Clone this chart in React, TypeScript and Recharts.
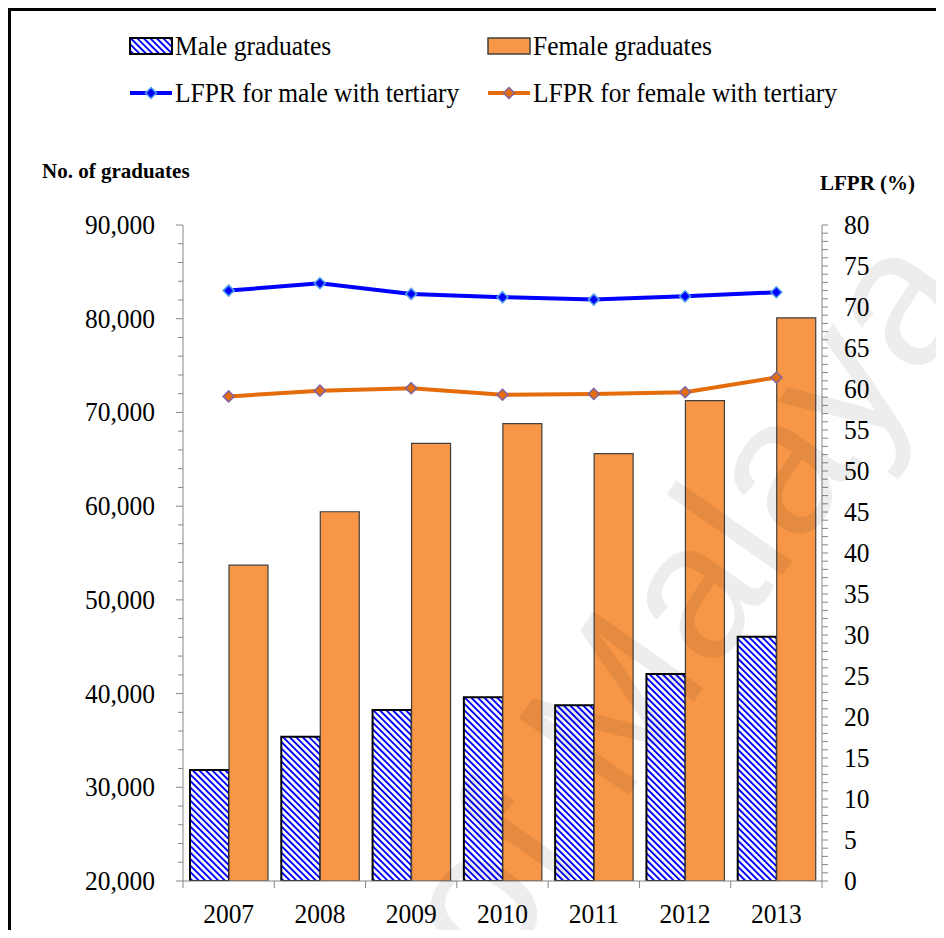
import React from "react";
import { ComposedChart, Bar, Line, XAxis, YAxis, Legend } from "recharts";

// values
const years = ["2007", "2008", "2009", "2010", "2011", "2012", "2013"];
const maleGraduates = [31850, 35400, 38250, 39600, 38750, 42100, 46050];
const femaleGraduates = [53700, 59400, 66700, 68800, 65600, 71250, 80100];
const lfprMale = [72.0, 72.9, 71.6, 71.2, 70.9, 71.3, 71.8];
const lfprFemale = [59.1, 59.8, 60.1, 59.3, 59.4, 59.6, 61.4];

const leftMajorTicks = [20000, 30000, 40000, 50000, 60000, 70000, 80000, 90000];
const rightMajorTicks = [0, 5, 10, 15, 20, 25, 30, 35, 40, 45, 50, 55, 60, 65, 70, 75, 80];
const leftTicks = Array.from({ length: 36 }, (_, i) => 20000 + i * 2000);
const rightTicks = Array.from({ length: 81 }, (_, i) => i);

const data = years.map((year, i) => ({
  year,
  male: maleGraduates[i],
  female: femaleGraduates[i],
  lfprMale: lfprMale[i],
  lfprFemale: lfprFemale[i],
}));

// layout (chart coordinates, origin at the page's 8px body margin)
const W = 928;
const H = 922;
const PLOT_L = 175;
const PLOT_R = 814;
const PLOT_T = 217;
const PLOT_B = 873;
const X_AXIS_H = 42;

const SERIF = "'Times New Roman', 'Liberation Serif', serif";
const AXIS = "#868686";
const BLUE = "#0000FF";
const ORANGE_LINE = "#E46C0A";
const ORANGE_BAR = "#F79646";
const SX = 0.91;

const fmt = (v: number) => v.toLocaleString("en-US");

function LeftTick(props: any) {
  const { y, payload } = props;
  const v = payload.value;
  const major = leftMajorTicks.includes(v);
  return (
    <g>
      <line x1={PLOT_L - (major ? 7 : 5)} x2={PLOT_L} y1={y} y2={y} stroke={AXIS} />
      {major && (
        <text transform={`translate(${PLOT_L - 28},${y + 9}) scale(${SX},1)`} textAnchor="end" fontFamily={SERIF} fontSize={28} fill="#000">
          {fmt(v)}
        </text>
      )}
    </g>
  );
}

function RightTick(props: any) {
  const { y, payload } = props;
  const v = payload.value;
  const major = rightMajorTicks.includes(v);
  return (
    <g>
      <line x1={PLOT_R} x2={PLOT_R + 6} y1={y} y2={y} stroke={AXIS} />
      {major && (
        <text transform={`translate(${PLOT_R + 22},${y + 9}) scale(${SX},1)`} textAnchor="start" fontFamily={SERIF} fontSize={28} fill="#000">
          {v}
        </text>
      )}
    </g>
  );
}

function YearTick(props: any) {
  const { x, payload } = props;
  const idx = years.indexOf(payload.value);
  const band = (PLOT_R - PLOT_L) / years.length;
  return (
    <g>
      <line x1={x - band / 2} x2={x - band / 2} y1={PLOT_B} y2={PLOT_B + 7} stroke={AXIS} />
      {idx === years.length - 1 && <line x1={x + band / 2} x2={x + band / 2} y1={PLOT_B} y2={PLOT_B + 7} stroke={AXIS} />}
      <text transform={`translate(${x},${PLOT_B + 42}) scale(${SX},1)`} textAnchor="middle" fontFamily={SERIF} fontSize={28} fill="#000">
        {payload.value}
      </text>
    </g>
  );
}

function AxisTitle({ tx, ty, text }: { tx: number; ty: number; text: string }) {
  return (
    <text x={tx} y={ty} fontFamily={SERIF} fontSize={21} fontWeight="bold" fill="#000">
      {text}
    </text>
  );
}

const diamond = (fill: string, stroke: string) => (p: any) => {
  const { cx, cy, index } = p;
  const r = 5.5;
  return (
    <polygon
      key={`d-${index}`}
      points={`${cx},${cy - r} ${cx + r},${cy} ${cx},${cy + r} ${cx - r},${cy}`}
      fill={fill}
      stroke={stroke}
      strokeWidth={1.5}
    />
  );
};

function Stripes({ id }: { id: string }) {
  return (
    <pattern id={id} patternUnits="userSpaceOnUse" width="4.6" height="4.6" patternTransform="rotate(-45)">
      <rect x="0" y="0" width="4.6" height="4.6" fill="#fff" />
      <rect x="0" y="0" width="1.9" height="4.6" fill={BLUE} />
    </pattern>
  );
}

function LegendBox() {
  const legendText = (x: number, y: number, t: string) => (
    <text transform={`translate(${x},${y}) scale(${SX},1)`} fontFamily={SERIF} fontSize={28} fill="#000">
      {t}
    </text>
  );
  return (
    <svg width={W} height={110} style={{ display: "block" }}>
      <defs>
        <Stripes id="maleStripesLegend" />
      </defs>
      <rect x={122} y={30} width={42} height={16} fill="url(#maleStripesLegend)" stroke="#000" strokeWidth={2} />
      {legendText(167, 47, "Male graduates")}
      <rect x={480} y={30} width={42} height={16} fill={ORANGE_BAR} stroke="#404040" strokeWidth={1.5} />
      {legendText(525, 47, "Female graduates")}
      <line x1={122} x2={164} y1={85} y2={85} stroke={BLUE} strokeWidth={4} />
      {diamond(BLUE, "#4F9FE8")({ cx: 143, cy: 85, index: "l1" })}
      {legendText(167, 94, "LFPR for male with tertiary")}
      <line x1={480} x2={522} y1={85} y2={85} stroke={ORANGE_LINE} strokeWidth={4} />
      {diamond(ORANGE_LINE, "#8064A2")({ cx: 501, cy: 85, index: "l2" })}
      {legendText(525, 94, "LFPR for female with tertiary")}
    </svg>
  );
}

export default function App() {
  return (
    <div style={{ position: "relative", width: W, height: H, overflow: "hidden", background: "#fff" }}>
      <ComposedChart
        width={W}
        height={H}
        data={data}
        barGap={0}
        margin={{ top: PLOT_T, right: 0, bottom: H - PLOT_B - X_AXIS_H, left: 0 }}
      >
        <defs>
          <Stripes id="maleStripes" />
        </defs>
        <Legend
          layout="vertical"
          align="center"
          verticalAlign="middle"
          wrapperStyle={{ top: 0, left: 0, width: W, height: 110 }}
          content={() => <LegendBox />}
        />
        <XAxis
          dataKey="year"
          height={X_AXIS_H}
          interval={0}
          tickLine={false}
          axisLine={{ stroke: AXIS }}
          tick={<YearTick />}
        />
        <YAxis
          yAxisId="left"
          orientation="left"
          width={PLOT_L}
          type="number"
          domain={[20000, 90000]}
          allowDataOverflow
          ticks={leftTicks}
          interval={0}
          tickLine={false}
          axisLine={{ stroke: AXIS }}
          tick={<LeftTick />}
          label={<AxisTitle tx={34} ty={170} text="No. of graduates" />}
        />
        <YAxis
          yAxisId="right"
          orientation="right"
          width={W - PLOT_R}
          type="number"
          domain={[0, 80]}
          allowDataOverflow
          ticks={rightTicks}
          interval={0}
          tickLine={false}
          axisLine={{ stroke: AXIS }}
          tick={<RightTick />}
          label={<AxisTitle tx={812} ty={182} text="LFPR (%)" />}
        />
        <Bar yAxisId="left" dataKey="male" name="Male graduates" barSize={39} fill="url(#maleStripes)" stroke="#000" strokeWidth={2} isAnimationActive={false} />
        <Bar yAxisId="left" dataKey="female" name="Female graduates" barSize={39} fill={ORANGE_BAR} stroke="#404040" strokeWidth={1.2} isAnimationActive={false} />
        <Line
          yAxisId="right"
          type="linear"
          dataKey="lfprMale"
          name="LFPR for male with tertiary"
          stroke={BLUE}
          strokeWidth={4}
          dot={diamond(BLUE, "#4F9FE8")}
          activeDot={false}
          isAnimationActive={false}
        />
        <Line
          yAxisId="right"
          type="linear"
          dataKey="lfprFemale"
          name="LFPR for female with tertiary"
          stroke={ORANGE_LINE}
          strokeWidth={4}
          dot={diamond(ORANGE_LINE, "#8064A2")}
          activeDot={false}
          isAnimationActive={false}
        />
      </ComposedChart>
      {/* faint watermark */}
      <svg width={W} height={H} style={{ position: "absolute", left: 0, top: 0, pointerEvents: "none" }}>
        <text
          x={972}
          y={285}
          transform="rotate(-55 972 285)"
          textAnchor="end"
          fontFamily="'Liberation Sans', Arial, sans-serif"
          fontSize={195}
          fill="#000"
          fillOpacity={0.07}
        >
          University of Malaya
        </text>
      </svg>
      <div style={{ position: "absolute", left: 0, top: 0, width: W, height: H, borderTop: "3px solid #000", borderLeft: "3px solid #000", boxSizing: "border-box", pointerEvents: "none" }} />
    </div>
  );
}
